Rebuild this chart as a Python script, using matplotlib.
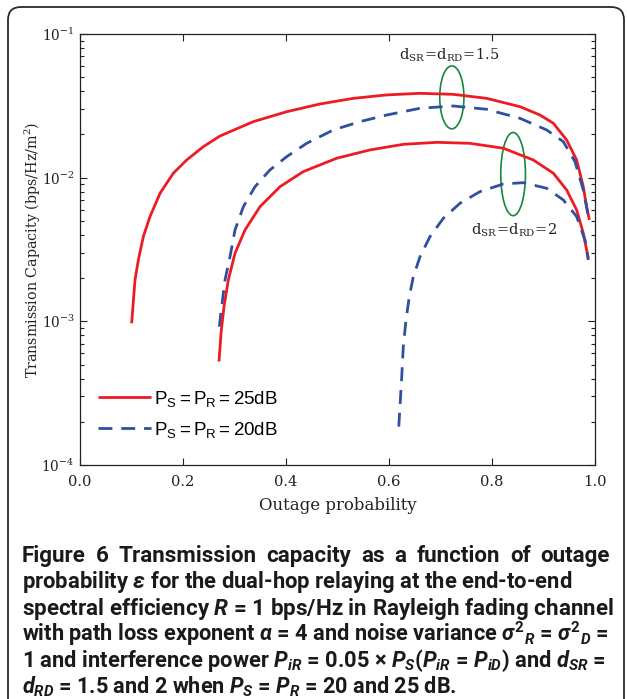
import numpy as np
import matplotlib
matplotlib.use('Agg')
import matplotlib.pyplot as plt
from matplotlib.patches import Ellipse, FancyBboxPatch
from matplotlib.ticker import LogLocator, FixedLocator, FormatStrFormatter

CAP_FONT = 'Roboto'
plt.rcParams['font.family'] = 'DejaVu Serif'
plt.rcParams['mathtext.fontset'] = 'custom'
plt.rcParams['mathtext.rm'] = CAP_FONT + ':bold'
plt.rcParams['mathtext.it'] = CAP_FONT + ':italic:bold'
plt.rcParams['mathtext.bf'] = CAP_FONT + ':bold'
plt.rcParams['mathtext.fallback'] = 'stixsans'

# ---------------- data ----------------
# P_S = P_R = 25 dB, d_SR = d_RD = 1.5
p_25_15 = [0.1003, 0.1068, 0.1133, 0.1230, 0.1359, 0.1553, 0.1812, 0.2071, 0.2395, 0.2718,
           0.3366, 0.4013, 0.4660, 0.5307, 0.5955, 0.6602, 0.7249, 0.7897, 0.8544, 0.8932,
           0.9191, 0.9450, 0.9644, 0.9773, 0.9838, 0.9890]
tc_25_15 = [0.000970, 0.001941, 0.002673, 0.003890, 0.005358, 0.007780, 0.01074, 0.01327,
            0.01644, 0.01950, 0.02455, 0.02877, 0.03258, 0.03565, 0.03767, 0.03864, 0.03802,
            0.03565, 0.03119, 0.02729, 0.02393, 0.01828, 0.01327, 0.008650, 0.006281, 0.005082]
# P_S = P_R = 20 dB, d_SR = d_RD = 1.5
p_20_15 = [0.2705, 0.2751, 0.2816, 0.2913, 0.3010, 0.3172, 0.3398, 0.3689, 0.4013, 0.4401,
           0.4919, 0.5437, 0.5955, 0.6602, 0.7249, 0.7897, 0.8544, 0.9062, 0.9385, 0.9612,
           0.9773, 0.9890]
tc_20_15 = [0.000918, 0.001265, 0.001941, 0.002818, 0.004325, 0.006281, 0.008650, 0.01132,
            0.01400, 0.01734, 0.02148, 0.02455, 0.02729, 0.03041, 0.03155, 0.02992, 0.02588,
            0.02148, 0.01782, 0.01291, 0.008204, 0.004943]
# P_S = P_R = 25 dB, d_SR = d_RD = 2
p_25_2 = [0.2699, 0.2738, 0.2796, 0.2880, 0.3010, 0.3204, 0.3495, 0.3883, 0.4336, 0.4984,
          0.5631, 0.6278, 0.6926, 0.7573, 0.8220, 0.8803, 0.9191, 0.9450, 0.9644, 0.9773, 0.9870]
tc_25_2 = [0.000525, 0.000826, 0.001265, 0.001941, 0.002979, 0.004325, 0.006281, 0.008650,
           0.01102, 0.01365, 0.01560, 0.01706, 0.01762, 0.01734, 0.01603, 0.01327, 0.01074,
           0.008204, 0.005957, 0.004102, 0.002748]
# P_S = P_R = 20 dB, d_SR = d_RD = 2
p_20_2 = [0.6190, 0.6246, 0.6278, 0.6330, 0.6394, 0.6472, 0.6602, 0.6796, 0.7055, 0.7379,
          0.7767, 0.8220, 0.8608, 0.9062, 0.9385, 0.9644, 0.9806, 0.9870]
tc_20_2 = [0.000185, 0.000402, 0.000667, 0.001023, 0.001486, 0.002046, 0.002818, 0.003890,
           0.005212, 0.006637, 0.007998, 0.009036, 0.009226, 0.008433, 0.006998, 0.005358,
           0.003681, 0.002673]

legend_labels = [r'$\mathregular{P_S=P_R=25dB}$', r'$\mathregular{P_S=P_R=20dB}$']
x_ticks = [0.0, 0.2, 0.4, 0.6, 0.8, 1.0]

RED = '#ed1c24'
BLUE = '#2f4fa0'
GREEN = '#14883c'
INK = '#222222'

fig = plt.figure(figsize=(6.27, 6.99), dpi=100)

# outer rounded frame
frame = FancyBboxPatch((0.08, -0.6), 6.16, 7.52, boxstyle='round,pad=0,rounding_size=0.13',
                       transform=fig.dpi_scale_trans, facecolor='none', edgecolor='#2a2a2a',
                       linewidth=1.3, clip_on=False)
fig.patches.append(frame)

ax = fig.add_axes([80 / 627, 234 / 699, 515 / 627, 431 / 699])

dash = (5, 3.2)
l1, = ax.plot(p_25_15, tc_25_15, color=RED, lw=2.0, solid_capstyle='butt', solid_joinstyle='round')
l2, = ax.plot(p_20_15, tc_20_15, color=BLUE, lw=2.0, dashes=dash)
ax.plot(p_25_2, tc_25_2, color=RED, lw=2.0, solid_capstyle='butt', solid_joinstyle='round')
ax.plot(p_20_2, tc_20_2, color=BLUE, lw=2.0, dashes=dash)

ax.set_yscale('log')
ax.set_xlim(0, 1)
ax.set_ylim(1e-4, 1e-1)
ax.xaxis.set_major_locator(FixedLocator(x_ticks))
ax.xaxis.set_major_formatter(FormatStrFormatter('%.1f'))
ax.yaxis.set_major_locator(LogLocator(base=10, numticks=10))
ax.yaxis.set_minor_locator(LogLocator(base=10, subs=np.arange(2, 10), numticks=20))
ax.tick_params(which='both', direction='in', top=True, right=True, width=0.8, colors=INK,
               labelcolor=INK)
ax.tick_params(which='major', length=5)
ax.tick_params(which='minor', length=3)
ax.tick_params(axis='x', pad=7, labelsize=10.6)
ax.tick_params(axis='y', pad=4, labelsize=9.8)
for s in ax.spines.values():
    s.set_linewidth(0.9)
    s.set_color(INK)

ax.set_xlabel('Outage probability', fontsize=11.9, color=INK, labelpad=6)
ax.set_ylabel(r'Transmission Capacity (bps/Hz/m$\mathregular{^2}$)', fontsize=10.3, color=INK)
ax.yaxis.set_label_coords(-0.071, 0.5)

# ellipses and annotations
ax.add_patch(Ellipse((0.722, 0.853), 0.047, 0.146, transform=ax.transAxes,
                     facecolor='none', edgecolor=GREEN, lw=1.2))
ax.add_patch(Ellipse((0.841, 0.675), 0.048, 0.193, transform=ax.transAxes,
                     facecolor='none', edgecolor=GREEN, lw=1.2))
ax.text(0.717, 0.95, r'$\mathregular{d_{SR}\!=\!d_{RD}\!=\!1.5}$', transform=ax.transAxes,
        ha='center', va='center', fontsize=10.5, color=INK)
ax.text(0.843, 0.545, r'$\mathregular{d_{SR}\!=\!d_{RD}\!=\!2}$', transform=ax.transAxes,
        ha='center', va='center', fontsize=10.5, color=INK)

leg = ax.legend([l1, l2], legend_labels, loc='center left', bbox_to_anchor=(0.035, 0.118),
                frameon=False, prop=dict(family='Liberation Sans', size=13.5),
                handlelength=2.8, handletextpad=0.2, labelspacing=0.6,
                borderpad=0, borderaxespad=0)

# ---------------- caption ----------------
cap_family = [CAP_FONT, 'DejaVu Sans']
left_px, right_px = 22, 610
base_px = [562, 588.3, 614.6, 640.9, 667.2, 693.5]
line_max_px = [574, 612, 609, 606, 458]

lines = [
    r'probability $\epsilon$ for the dual-hop relaying at the end-to-end',
    r'spectral efficiency $R$ = 1 bps/Hz in Rayleigh fading channel',
    r'with path loss exponent $\alpha$ = 4 and noise variance $\sigma^2{}_R$ = $\sigma^2{}_D$ =',
    r'1 and interference power $P_{iR}$ = 0.05 $\times$ $P_S$($P_{iR}$ = $P_{iD}$) and $d_{SR}$ =',
    r'$d_{RD}$ = 1.5 and 2 when $P_S$ = $P_R$ = 20 and 25 dB.',
]

# fit caption size so the 'spectral efficiency' line spans the same width as in the reference
probe = fig.text(0, 0, lines[1], family=cap_family, weight='bold', size=13)
fig.canvas.draw()
r = fig.canvas.get_renderer()
pw = probe.get_window_extent(r).width
probe.remove()
cap_size = 13 * (612 - left_px) / pw
cap = dict(family=cap_family, weight='bold', size=cap_size, color='#1a1a1a')

words1 = ['Figure', '6', 'Transmission', 'capacity', 'as', 'a', 'function', 'of', 'outage']
wtexts = [fig.text(0, 1 - base_px[0] / 699, w, ha='left', va='baseline', **cap) for w in words1]
ltexts = [fig.text(left_px / 627, 1 - b / 699, ln, ha='left', va='baseline', **cap)
          for ln, b in zip(lines, base_px[1:])]
fig.canvas.draw()
r = fig.canvas.get_renderer()
widths = [t.get_window_extent(r).width for t in wtexts]
gap = (right_px - left_px - sum(widths)) / (len(words1) - 1)
xcur = left_px
for t, w in zip(wtexts, widths):
    t.set_x(xcur / 627)
    xcur += w + gap
for t, mx in zip(ltexts, line_max_px):
    w = t.get_window_extent(r).width
    if left_px + w > mx + 2:
        t.set_fontsize(cap_size * (mx - left_px) / w)

fig.savefig('out.png', dpi=100)
